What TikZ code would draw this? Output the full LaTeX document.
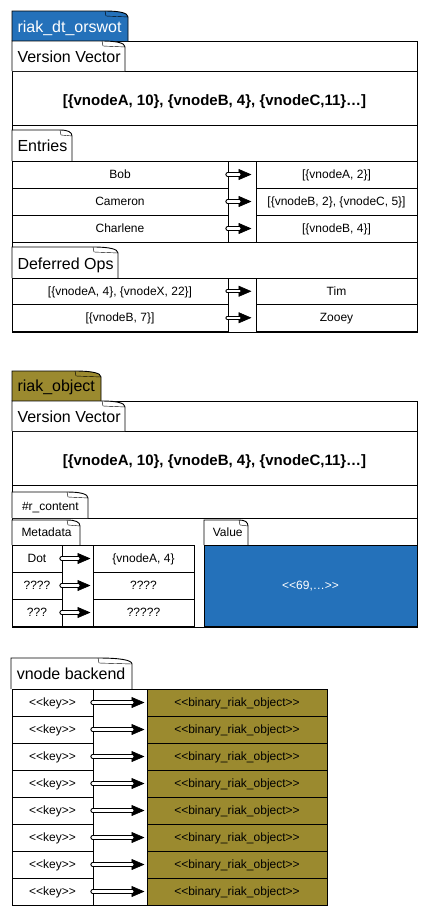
\documentclass[tikz,border=0pt]{standalone}
\usepackage{fontspec}
\setmainfont{Liberation Sans}
\usetikzlibrary{arrows.meta}
\definecolor{blueC}{HTML}{2471BA}
\definecolor{oliveC}{HTML}{9B8A2F}
% tab with folded corner: x1 y1 x2 y2 ear fill
\newcommand\tabpath[6]{%
  \filldraw[fill=#6, line width=0.9pt] (#1,#4) -- (#1,#2) -- ({#3-#5},#2)
    .. controls ({#3-#5*0.35},#2) and (#3,{#2+2}) .. (#3,{#2+6}) -- (#3,#4);
  \draw[line width=0.4pt] ({#3-#5},#2) -- ({#3-#5+1},{#2+5}) -- (#3,{#2+6});
}
% hollow-shaft arrow: from, to, gap at end, gap + tip length
\newcommand\arrowlink[4]{%
  \draw[tipline, shorten >=#3pt] (#1.east) -- (#2.west);
  \draw[shaft, shorten >=#4pt] (#1.east) -- (#2.west);
}
\begin{document}
\begin{tikzpicture}[x=1pt,y=-1pt, line width=1pt,
  tabtxt/.style={anchor=base west, inner sep=0, font=\fontsize{16}{19}\selectfont},
  stabtxt/.style={anchor=base west, inner sep=0, font=\fontsize{12}{14}\selectfont},
  vvtxt/.style={anchor=base, inner sep=0, font=\bfseries\fontsize{15}{18}\selectfont},
  cell/.style={draw, inner sep=0, minimum height=27pt, text height=9.5pt, text depth=1.5pt, font=\fontsize{12}{14}\selectfont},
  tipline/.style={draw=black, line width=0.6pt, -{Triangle[length=13pt,width=11pt]}},
  shaft/.style={draw=black, line width=1pt, double=white, double distance=2.2pt, line cap=round, shorten <=-1pt}
]
\useasboundingbox (0,0) rectangle (428,916);

% ---------------- riak_dt_orswot ----------------
\draw (12,41) rectangle (417,332);
\draw (12,71) -- (417,71);
\draw (12,125) -- (417,125);
\draw (12,242) -- (417,242);
\draw (12,278) -- (417,278);
\draw (228,161) rectangle (256,242);
\draw (228,278) rectangle (256,332);
\tabpath{12}{11}{128}{41}{23}{blueC}
\node[tabtxt, text=white] (t1) at (17,32) {riak\_dt\_orswot};
\tabpath{12}{41}{125}{71}{23}{white}
\node[tabtxt] (vvl1) at (17,62.3) {Version Vector};
\node[vvtxt] (vv1) at (214.5,105.3) {[\{vnodeA, 10\}, \{vnodeB, 4\}, \{vnodeC,11\}…]};
\tabpath{12}{130}{72}{161}{12}{white}
\node[tabtxt] (ent) at (17,151.7) {Entries};

\node[cell, minimum width=216pt] (k1) at (120,174.5) {Bob};
\node[cell, minimum width=216pt] (k2) at (120,201.5) {Cameron};
\node[cell, minimum width=216pt] (k3) at (120,228.5) {Charlene};
\node[cell, minimum width=161pt] (v1) at (336.5,174.5) {[\{vnodeA, 2\}]};
\node[cell, minimum width=161pt] (v2) at (336.5,201.5) {[\{vnodeB, 2\}, \{vnodeC, 5\}]};
\node[cell, minimum width=161pt] (v3) at (336.5,228.5) {[\{vnodeB, 4\}]};
\arrowlink{k1}{v1}{4}{16}
\arrowlink{k2}{v2}{4}{16}
\arrowlink{k3}{v3}{4}{16}

\tabpath{12}{247}{118}{278}{25}{white}
\node[tabtxt] (def) at (17,269.3) {Deferred Ops};
\node[cell, minimum width=216pt, minimum height=26.5pt] (d1) at (120,291.25) {[\{vnodeA, 4\}, \{vnodeX, 22\}]};
\node[cell, minimum width=216pt, minimum height=26.5pt] (d2) at (120,317.75) {[\{vnodeB, 7\}]};
\node[cell, minimum width=161pt, minimum height=26.5pt] (e1) at (336.5,291.25) {Tim};
\node[cell, minimum width=161pt, minimum height=26.5pt] (e2) at (336.5,317.75) {Zooey};
\arrowlink{d1}{e1}{4}{16}
\arrowlink{d2}{e2}{4}{16}

% ---------------- riak_object ----------------
\draw (12,401) rectangle (417,627);
\draw (12,431) -- (417,431);
\draw (12,485) -- (417,485);
\draw (12,518) -- (417,518);
\tabpath{12}{371}{101}{401}{26}{oliveC}
\node[tabtxt] (t2) at (17,391.7) {riak\_object};
\tabpath{12}{401}{125}{431}{23}{white}
\node[tabtxt] (vvl2) at (17,422.3) {Version Vector};
\node[vvtxt] (vv2) at (214.5,465.3) {[\{vnodeA, 10\}, \{vnodeB, 4\}, \{vnodeC,11\}…]};
\tabpath{12}{492}{88}{518}{21}{white}
\node[stabtxt] (rc) at (21.5,510) {\#r\_content};
\tabpath{12}{520}{80}{545}{13}{white}
\node[stabtxt] (md) at (21,536.7) {Metadata};
\tabpath{204}{520}{248}{545}{9}{white}
\node[stabtxt] (vl) at (212.3,536.7) {Value};

\draw (62,545) rectangle (93,626);
\node[cell, minimum width=50pt] (m1) at (37,558.5) {Dot};
\node[cell, minimum width=50pt] (m2) at (37,585.5) {????};
\node[cell, minimum width=50pt] (m3) at (37,612.5) {???};
\node[cell, minimum width=101pt] (n1) at (143.5,558.5) {\{vnodeA, 4\}};
\node[cell, minimum width=101pt] (n2) at (143.5,585.5) {????};
\node[cell, minimum width=101pt] (n3) at (143.5,612.5) {?????};
\arrowlink{m1}{n1}{2}{14}
\arrowlink{m2}{n2}{2}{14}
\arrowlink{m3}{n3}{2}{14}
\node[cell, minimum width=213pt, minimum height=81pt, fill=blueC, text=white] (val) at (310.5,585.5) {<\kern0pt<69,…>\kern0pt>};

% ---------------- vnode backend ----------------
\tabpath{11}{658}{132}{689}{34}{white}
\node[tabtxt] (t3) at (16.3,679.3) {vnode backend};
\draw (93,689) rectangle (147,905);
\foreach \i in {1,...,8} {
  \node[cell, minimum width=81pt] (key\i) at (52.5,{689+27*\i-13.5}) {<\kern0pt<key>\kern0pt>};
  \node[cell, minimum width=180pt, fill=oliveC] (bin\i) at (237,{689+27*\i-13.5}) {<\kern0pt<binary\_riak\_object>\kern0pt>};
  \arrowlink{key\i}{bin\i}{2}{14}
}
\end{tikzpicture}
\end{document}
